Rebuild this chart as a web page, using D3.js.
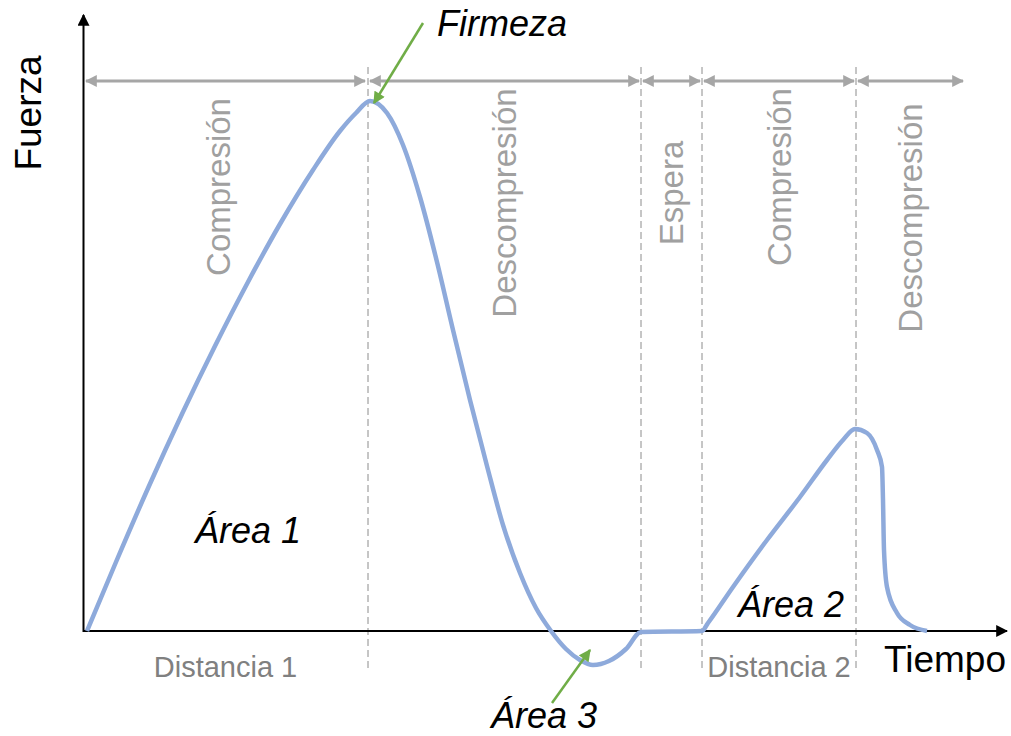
<!DOCTYPE html>
<meta charset="utf-8">
<script src="https://d3js.org/d3.v7.min.js"></script>
<style>
  body { margin: 0; background: #fff; }
  text { font-family: "Liberation Sans", Arial, sans-serif; }
</style>
<div id="my_dataviz"></div>
<script>

// force curve (time, force)
var curveTime  = [0.3, 3.2, 6.5, 9.8, 13.1, 16.4, 19.6, 22.9, 25.6, 27.2, 28.6,
                  30.3, 31.9, 33.6, 35.3, 36.9, 38.6, 40.3, 41.9, 43.6, 45.2, 46.7,
                  48.2, 49.6, 50.9, 52.5, 54.2, 55.7, 61.8, 62.4,
                  64.9, 68.3, 71.6, 74.3, 75.9, 77.1, 78.3, 79.3, 79.8, 79.9,
                  80.0, 80.3, 81.3, 82.6, 84.3];
var curveForce = [0, 6.9, 14.5, 21.7, 28.5, 34.9, 40.7, 46.1, 50.0, 51.8, 53.0,
                  51.8, 48.6, 43.4, 36.9, 30.1, 23.1, 16.5, 10.6, 5.8, 2.3, 0,
                  -1.8, -2.9, -3.4, -3.0, -1.8, -0.1, 0, 0.8,
                  4.4, 9.1, 13.4, 17.1, 19.1, 20.2, 19.8, 18.1, 16.4, 13.1,
                  8.1, 4.4, 1.8, 0.6, 0];

// test phases
var phaseNames = ["Compresión", "Descompresión", "Espera", "Compresión", "Descompresión"];
var phaseStart = [0.2, 28.6, 55.9, 62.0, 77.4];
var phaseEnd   = [28.1, 55.5, 61.6, 77.0, 87.9];
var boundaries = [28.4, 55.7, 61.8, 77.2];

// distance labels sit under the compression phases
var distNames = ["Distancia 1", "Distancia 2"];
var distPhase = [0, 3];

var width = 1011, height = 736;

var svg = d3.select("#my_dataviz")
  .append("svg")
    .attr("width", width)
    .attr("height", height);

var x = d3.scaleLinear().domain([0, 92]).range([84, 1004]);
var y = d3.scaleLinear().domain([0, 60]).range([631, 31]);

// arrow heads
var defs = svg.append("defs");
function marker(id, color, w, h) {
  defs.append("marker")
    .attr("id", id)
    .attr("viewBox", "0 0 10 10")
    .attr("refX", 9).attr("refY", 5)
    .attr("markerUnits", "userSpaceOnUse")
    .attr("markerWidth", w).attr("markerHeight", h)
    .attr("orient", "auto-start-reverse")
    .append("path")
      .attr("d", "M0,0 L10,5 L0,10 z")
      .attr("fill", color);
}
marker("headBlack", "#000", 12, 12);
marker("headGrey", "#a6a6a6", 12, 13);
marker("headGreen", "#70ad47", 13, 12);

// dashed phase boundaries
svg.selectAll(".bound")
  .data(boundaries)
  .enter().append("line")
    .attr("class", "bound")
    .attr("x1", function(d) { return x(d); })
    .attr("x2", function(d) { return x(d); })
    .attr("y1", y(56.4))
    .attr("y2", y(-3.8))
    .attr("stroke", "#8c8c8c")
    .attr("stroke-width", 1)
    .attr("stroke-dasharray", "7,4");

// phase double arrows
svg.selectAll(".phase")
  .data(phaseNames)
  .enter().append("line")
    .attr("class", "phase")
    .attr("x1", function(d, i) { return x(phaseStart[i]); })
    .attr("x2", function(d, i) { return x(phaseEnd[i]); })
    .attr("y1", y(55))
    .attr("y2", y(55))
    .attr("stroke", "#a6a6a6")
    .attr("stroke-width", 3)
    .attr("marker-start", "url(#headGrey)")
    .attr("marker-end", "url(#headGrey)");

// phase labels (vertical), centre height in force units
var labelF = [44.4, 42.8, 43.8, 45.4, 41.3];
svg.selectAll(".phaseLabel")
  .data(phaseNames)
  .enter().append("text")
    .attr("class", "phaseLabel")
    .attr("transform", function(d, i) {
      var cx = (x(phaseStart[i]) + x(phaseEnd[i])) / 2 - 7 * (i === 0);
      return "translate(" + cx + "," + y(labelF[i]) + ") rotate(-90)";
    })
    .attr("text-anchor", "middle")
    .attr("dy", "0.35em")
    .attr("font-size", 33)
    .attr("fill", "#a0a0a0")
    .text(function(d) { return d; });

// distance labels
svg.selectAll(".dist")
  .data(distNames)
  .enter().append("text")
    .attr("class", "dist")
    .attr("x", function(d, i) { var p = distPhase[i]; return (x(phaseStart[p]) + x(phaseEnd[p])) / 2; })
    .attr("y", 677)
    .attr("text-anchor", "middle")
    .attr("font-size", 29)
    .attr("fill", "#808080")
    .text(function(d) { return d; });

// axes
svg.append("line")
  .attr("x1", x(-0.1)).attr("x2", x(92.3))
  .attr("y1", y(0)).attr("y2", y(0))
  .attr("stroke", "#000").attr("stroke-width", 2)
  .attr("marker-end", "url(#headBlack)");
svg.append("line")
  .attr("x1", x(-0.05)).attr("x2", x(-0.05))
  .attr("y1", y(-0.1)).attr("y2", y(61.6))
  .attr("stroke", "#000").attr("stroke-width", 2)
  .attr("marker-end", "url(#headBlack)");

svg.append("text")
  .attr("transform", "translate(28,113) rotate(-90)")
  .attr("text-anchor", "middle")
  .attr("dy", "0.35em")
  .attr("font-size", 37)
  .text("Fuerza");
svg.append("text")
  .attr("x", 1006).attr("y", 672)
  .attr("text-anchor", "end")
  .attr("font-size", 37)
  .text("Tiempo");

// the force curve
var points = curveTime.map(function(t, i) { return [t, curveForce[i]]; });
svg.append("path")
  .datum(points)
  .attr("fill", "none")
  .attr("stroke", "#8eaadb")
  .attr("stroke-width", 4.5)
  .attr("stroke-linejoin", "round")
  .attr("d", d3.line()
    .curve(d3.curveMonotoneX)
    .x(function(d) { return x(d[0]); })
    .y(function(d) { return y(d[1]); }));

// annotations
svg.append("line")
  .attr("x1", 423).attr("y1", 23)
  .attr("x2", x(29.0)).attr("y2", y(52.8))
  .attr("stroke", "#70ad47").attr("stroke-width", 2.5)
  .attr("marker-end", "url(#headGreen)");
svg.append("line")
  .attr("x1", 552).attr("y1", 703)
  .attr("x2", x(50.6)).attr("y2", y(-1.9))
  .attr("stroke", "#70ad47").attr("stroke-width", 2.5)
  .attr("marker-end", "url(#headGreen)");

var notes = [
  {t: "Firmeza", x: 437, y: 36, a: "start"},
  {t: "Área 1", x: 248, y: 543, a: "middle"},
  {t: "Área 2", x: 791, y: 617, a: "middle"},
  {t: "Área 3", x: 544, y: 728, a: "middle"}
];
svg.selectAll(".note")
  .data(notes)
  .enter().append("text")
    .attr("class", "note")
    .attr("x", function(d) { return d.x; })
    .attr("y", function(d) { return d.y; })
    .attr("text-anchor", function(d) { return d.a; })
    .attr("font-size", 36)
    .attr("font-style", "italic")
    .text(function(d) { return d.t; });

</script>
